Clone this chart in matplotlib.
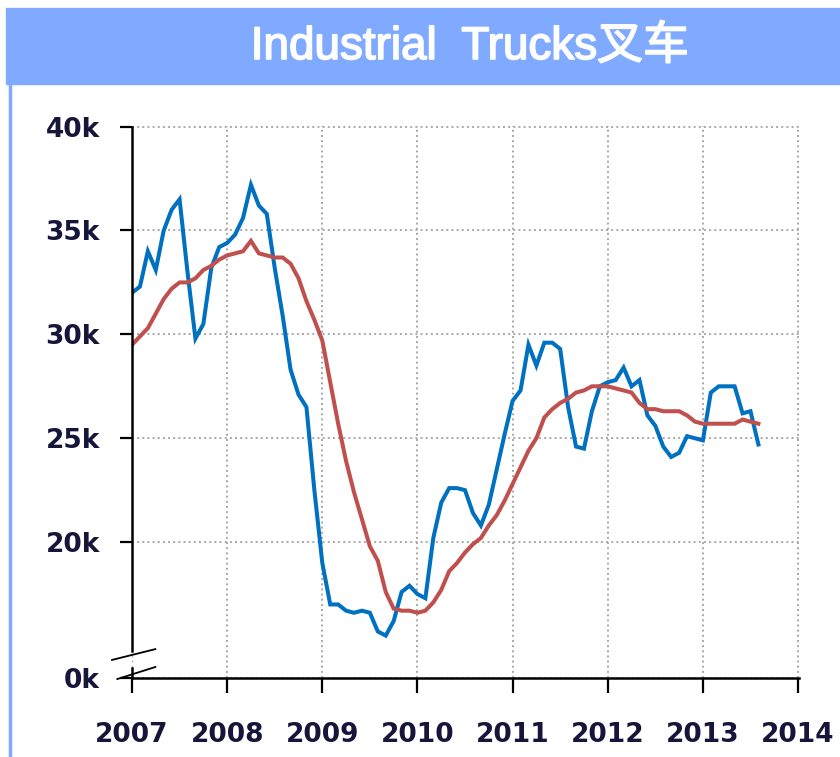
import matplotlib
matplotlib.use("Agg")
import matplotlib.pyplot as plt
import matplotlib.transforms as mtransforms
import matplotlib.patheffects as pe
from matplotlib.patches import Rectangle
from matplotlib.lines import Line2D
import numpy as np

# monthly values, Jan 2007 .. Aug 2013, in thousands of units
months = np.arange(80)
years = 2007 + months / 12.0

monthly = [
    32.0, 32.3, 34.0, 33.1, 35.0, 36.0, 36.5, 33.0, 29.8, 30.5,
    33.2, 34.2, 34.4, 34.8, 35.6, 37.2, 36.2, 35.8, 33.2, 30.9,
    28.3, 27.1, 26.5, 22.5, 19.0, 17.0, 17.0, 16.7, 16.6, 16.7,
    16.6, 15.7, 15.5, 16.2, 17.6, 17.9, 17.5, 17.3, 20.2, 21.9,
    22.6, 22.6, 22.5, 21.4, 20.8, 21.8, 23.5, 25.2, 26.8, 27.3,
    29.5, 28.5, 29.6, 29.6, 29.3, 26.5, 24.6, 24.5, 26.3, 27.5,
    27.7, 27.8, 28.4, 27.5, 27.8, 26.1, 25.6, 24.6, 24.1, 24.3,
    25.1, 25.0, 24.9, 27.2, 27.5, 27.5, 27.5, 26.2, 26.3, 24.7,
]

moving_avg = [
    29.5, 29.9, 30.3, 31.0, 31.7, 32.2, 32.5, 32.5, 32.7, 33.1,
    33.3, 33.6, 33.8, 33.9, 34.0, 34.5, 33.9, 33.8, 33.7, 33.7,
    33.4, 32.7, 31.6, 30.7, 29.7, 27.7, 25.7, 23.9, 22.4, 21.1,
    19.8, 19.1, 17.6, 16.8, 16.7, 16.7, 16.6, 16.7, 17.1, 17.7,
    18.6, 19.0, 19.5, 19.9, 20.2, 20.8, 21.3, 22.0, 22.8, 23.6,
    24.4, 25.0, 26.0, 26.4, 26.7, 26.9, 27.2, 27.3, 27.5, 27.5,
    27.5, 27.4, 27.3, 27.2, 26.7, 26.4, 26.4, 26.3, 26.3, 26.3,
    26.1, 25.8, 25.7, 25.7, 25.7, 25.7, 25.7, 25.9, 25.8, 25.7,
]

year_ticks = [2007, 2008, 2009, 2010, 2011, 2012, 2013, 2014]
y_ticks = [13.46, 20, 25, 30, 35, 40]
y_labels = ["0k", "20k", "25k", "30k", "35k", "40k"]

title = "Industrial  Trucks叉车"

band_col = "#80aaff"
text_col = "#16163a"

W, H = 840, 757
fig = plt.figure(figsize=(W / 100, H / 100), dpi=100)

# title band and panel border
fig.patches.append(Rectangle((6 / W, 1 - 84 / H), 1 - 6 / W, 76 / H,
                             transform=fig.transFigure, color=band_col, zorder=0))
fig.lines.append(Line2D([9.5 / W, 9.5 / W], [0, 1 - 84 / H], transform=fig.transFigure,
                        color=band_col, lw=2.5))
fig.text(470 / W, 1 - 47 / H, title, color="white", fontsize=33,
         ha="center", va="center", family=["Liberation Sans", "Noto Sans CJK SC"],
         path_effects=[pe.withStroke(linewidth=1.2, foreground="white")])

ax = fig.add_axes([132 / W, 1 - 678 / H, 667 / W, 552 / H])
ax.set_axisbelow(True)

ax.plot(years, monthly, color="#0070c0", lw=2.9, solid_joinstyle="miter")
ax.plot(years, moving_avg, color="#c0504d", lw=2.9, solid_joinstyle="miter")

ax.set_xlim(2007, 2014.01)
ax.set_ylim(13.46, 40.03)
ax.set_xticks(year_ticks)
ax.set_xticklabels([str(y) for y in year_ticks])
ax.set_yticks(y_ticks)
ax.set_yticklabels(y_labels)

ax.grid(True, color="#a8a8a8", linestyle=":", lw=1.4)

for s in ["top", "right"]:
    ax.spines[s].set_visible(False)
ax.spines["left"].set_linewidth(1.8)
ax.spines["bottom"].set_linewidth(1.8)
ax.spines["left"].set_bounds(14.75, 40)

ax.tick_params(axis="y", direction="out", length=9, width=1.6, pad=14,
               labelsize=19, labelcolor=text_col)
ax.tick_params(axis="x", direction="out", length=11, width=1.6, pad=21,
               labelsize=19, labelcolor=text_col)
for lab in ax.get_xticklabels() + ax.get_yticklabels():
    lab.set_fontweight("bold")
    lab.set_family("DejaVu Sans")

# axis break
tr = mtransforms.blended_transform_factory(ax.transAxes, ax.transData)
ax.plot([0, 0], [13.46, 13.95], color="black", lw=1.8, transform=tr, clip_on=False)
ax.plot([-0.030, 0.035], [14.33, 14.85], color="black", lw=1.3, transform=tr, clip_on=False)
ax.plot([-0.022, 0.035], [13.41, 13.99], color="black", lw=1.3, transform=tr, clip_on=False)

fig.savefig("out.png", dpi=100, facecolor="white")
